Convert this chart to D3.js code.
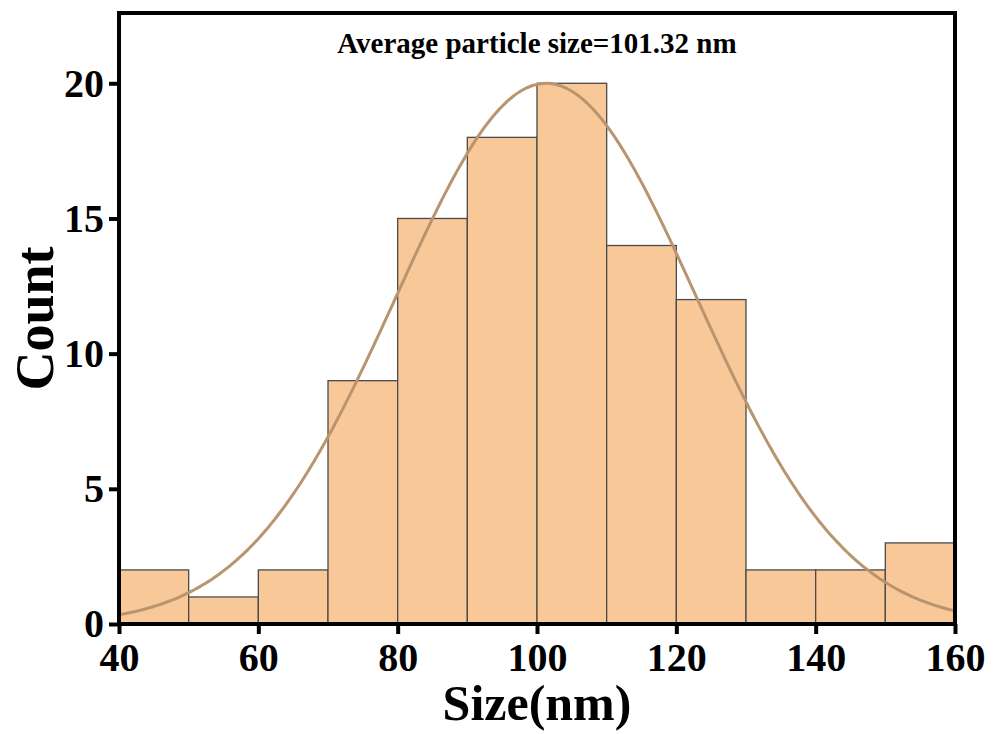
<!DOCTYPE html>
<html>
<head>
<meta charset="utf-8">
<script src="https://cdn.jsdelivr.net/npm/d3@7"></script>
<style>
  body { margin: 0; background: #fff; }
  text { font-family: "Liberation Serif", "Times New Roman", serif; font-weight: bold; }
</style>
</head>
<body>
<div id="chart"></div>
<script>
// histogram bins (nm) and counts
const binStarts = [40, 50, 60, 70, 80, 90, 100, 110, 120, 130, 140, 150];
const binWidth = 10;
const counts = [2, 1, 2, 9, 15, 18, 20, 14, 12, 2, 2, 3];
const xTicks = [40, 60, 80, 100, 120, 140, 160];
const yTicks = [0, 5, 10, 15, 20];

// normal fit
const fitMean = 101.32;
const fitSigma = 21.5;
const fitPeak = 20;

const margin = { top: 13, right: 39, bottom: 110, left: 119 };
const W = 994, H = 734;
const width = W - margin.left - margin.right;
const height = H - margin.top - margin.bottom;

const svg = d3.select("#chart").append("svg")
    .attr("width", W)
    .attr("height", H);

const g = svg.append("g")
    .attr("transform", `translate(${margin.left},${margin.top})`);

const x = d3.scaleLinear().domain([40, 160]).range([0, width]);
const y = d3.scaleLinear().domain([0, 22.6]).range([height, 0]);

// bars
g.append("g")
    .selectAll("rect")
    .data(binStarts)
    .join("rect")
    .attr("x", d => x(d))
    .attr("y", (d, i) => y(counts[i]))
    .attr("width", d => x(d + binWidth) - x(d))
    .attr("height", (d, i) => y(0) - y(counts[i]))
    .attr("fill", "#f9c899")
    .attr("stroke", "#4a4a4a")
    .attr("stroke-width", 1.3);

// fitted curve
const curveXs = d3.range(40, 160.01, 0.5);
const line = d3.line()
    .x(d => x(d))
    .y(d => y(fitPeak * Math.exp(-((d - fitMean) ** 2) / (2 * fitSigma * fitSigma))))
    .curve(d3.curveBasis);

g.append("path")
    .datum(curveXs)
    .attr("d", line)
    .attr("fill", "none")
    .attr("stroke", "#b8946f")
    .attr("stroke-width", 3);

// frame
g.append("rect")
    .attr("width", width)
    .attr("height", height)
    .attr("fill", "none")
    .attr("stroke", "#000")
    .attr("stroke-width", 4);

// axes
const xAxis = g.append("g")
    .attr("transform", `translate(0,${height})`)
    .call(d3.axisBottom(x).tickValues(xTicks).tickSize(10).tickPadding(9));

const yAxis = g.append("g")
    .call(d3.axisLeft(y).tickValues(yTicks).tickSize(10).tickPadding(5));

[xAxis, yAxis].forEach(a => {
    a.select(".domain").remove();
    a.selectAll(".tick line").attr("stroke", "#000").attr("stroke-width", 4);
    a.selectAll(".tick text")
        .attr("fill", "#000")
        .style("font-size", "40px")
        .style("font-family", "Liberation Serif, Times New Roman, serif")
        .style("font-weight", "bold");
});

// title inside
g.append("text")
    .attr("x", width / 2)
    .attr("y", 40)
    .attr("text-anchor", "middle")
    .style("font-size", "29px")
    .text("Average particle size=101.32 nm");

// axis titles
svg.append("text")
    .attr("x", margin.left + width / 2)
    .attr("y", 720)
    .attr("text-anchor", "middle")
    .style("font-size", "50px")
    .text("Size(nm)");

svg.append("text")
    .attr("transform", `translate(53,${margin.top + height / 2}) rotate(-90)`)
    .attr("text-anchor", "middle")
    .style("font-size", "54px")
    .text("Count");
</script>
</body>
</html>
